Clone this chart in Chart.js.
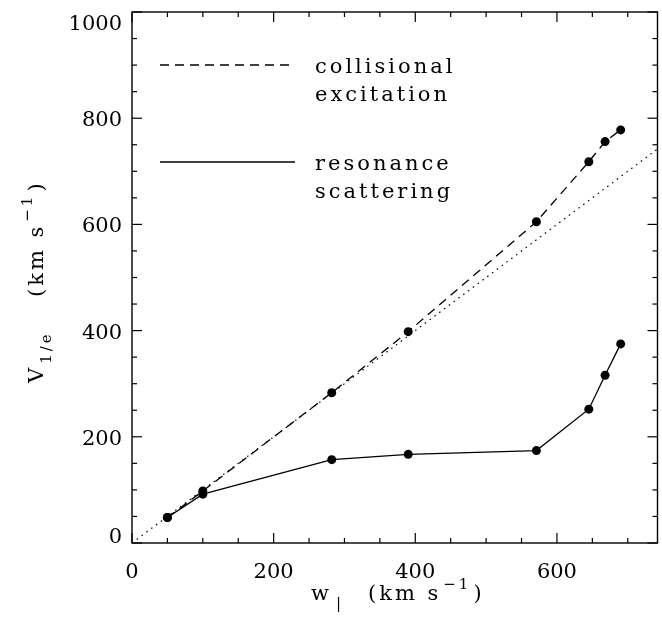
<!DOCTYPE html>
<html>
<head>
<meta charset="utf-8">
<script src="https://cdn.jsdelivr.net/npm/chart.js@4"></script>
<style>
  html, body { margin: 0; padding: 0; background: #fff; }
  canvas { display: block; }
</style>
</head>
<body>
<canvas id="c" width="662" height="619"></canvas>
<script>
// Line-of-sight velocity width w and the 1/e velocity for each emission model
const w           = [50, 100, 282, 390, 571, 645, 668, 690];
const collisional = [48, 98, 283, 398, 605, 718, 756, 778];
const resonance   = [48, 92, 157, 167, 174, 252, 316, 375];
// end points of the equality line V = w
const equality    = [0, 742];
const xTicks = [0, 200, 400, 600];
const yTicks = [0, 200, 400, 600, 800, 1000];
const legendRows = [
  { dash: [9, 6], lines: ['collisional', 'excitation'] },
  { dash: [],     lines: ['resonance', 'scattering'] }
];

const FONT = '"DejaVu Serif", "Liberation Serif", serif';
const INK = '#000';

function seg(ctx, x1, y1, x2, y2) {
  ctx.beginPath(); ctx.moveTo(x1, y1); ctx.lineTo(x2, y2); ctx.stroke();
}
function text(ctx, str, x, y, size, align) {
  ctx.font = size + 'px ' + FONT;
  ctx.textAlign = align || 'left';
  ctx.fillText(str, x, y);
  return ctx.measureText(str).width;
}

const frame = {
  id: 'frame',
  afterDraw(chart) {
    const { ctx, chartArea: a, scales: { x, y } } = chart;
    ctx.save();
    ctx.strokeStyle = INK; ctx.fillStyle = INK;
    ctx.lineWidth = 1.4;
    ctx.strokeRect(a.left, a.top, a.right - a.left, a.bottom - a.top);

    // inward ticks on all four sides, minor every quarter of a major step
    ctx.lineWidth = 1.2;
    const xStep = xTicks[1] - xTicks[0], yStep = yTicks[1] - yTicks[0];
    for (let v = 0; v <= x.max; v += xStep / 4) {
      const px = x.getPixelForValue(v);
      const len = v % xStep === 0 ? 10 : 5;
      seg(ctx, px, a.bottom, px, a.bottom - len);
      seg(ctx, px, a.top, px, a.top + len);
    }
    for (let v = 0; v <= y.max; v += yStep / 4) {
      const py = y.getPixelForValue(v);
      const len = v % yStep === 0 ? 10 : 5;
      seg(ctx, a.left, py, a.left + len, py);
      seg(ctx, a.right, py, a.right - len, py);
    }

    // tick labels
    ctx.textBaseline = 'alphabetic';
    xTicks.forEach(v => text(ctx, String(v), x.getPixelForValue(v), a.bottom + 35, 21, 'center'));
    yTicks.forEach(v => {
      const py = y.getPixelForValue(v);
      const base = Math.min(Math.max(py + 8, a.top + 18), a.bottom);
      text(ctx, String(v), a.left - 10, base, 21, 'right');
    });

    // legend
    ctx.lineWidth = 1.3;
    ctx.letterSpacing = '3px';
    legendRows.forEach((row, i) => {
      const ly = i === 0 ? 65 : 162;
      ctx.setLineDash(row.dash);
      seg(ctx, 160, ly, 295, ly);
      ctx.setLineDash([]);
      text(ctx, row.lines[0], 315, ly + 8, 21);
      text(ctx, row.lines[1], 315, ly + 36, 21);
    });

    // x-axis title: w| (km s^-1)
    let cx = 311;
    cx += text(ctx, 'w', cx, 600, 21);
    text(ctx, '|', cx + 4, 608, 15);
    cx = 368;
    cx += text(ctx, '(km s', cx, 600, 21);
    cx += text(ctx, '\u22121', cx + 2, 589, 15) + 4;
    text(ctx, ')', cx, 600, 21);

    // y-axis title: V_1/e (km s^-1), reading upward
    ctx.save();
    ctx.translate(43, 383);
    ctx.rotate(-Math.PI / 2);
    let cy = 0;
    cy += text(ctx, 'V', cy, 0, 21);
    cy += text(ctx, '1/e', cy + 1, 8, 15);
    cy = 86;
    cy += text(ctx, '(km s', cy, 0, 21);
    cy += text(ctx, '\u22121', cy + 2, -11, 15) + 4;
    text(ctx, ')', cy, 0, 21);
    ctx.restore();

    ctx.letterSpacing = '0px';
    ctx.restore();
  }
};

const pts = ys => w.map((v, i) => ({ x: v, y: ys[i] }));

new Chart(document.getElementById('c'), {
  type: 'scatter',
  data: {
    datasets: [
      {
        label: 'V = w',
        data: equality.map(v => ({ x: v, y: v })),
        showLine: true, borderColor: INK, borderWidth: 1.2,
        borderDash: [1.5, 4.5], pointRadius: 0
      },
      {
        label: 'collisional excitation',
        data: pts(collisional),
        showLine: true, borderColor: INK, borderWidth: 1.3, borderDash: [9, 6],
        pointRadius: 4.5, pointBackgroundColor: INK, pointBorderWidth: 0
      },
      {
        label: 'resonance scattering',
        data: pts(resonance),
        showLine: true, borderColor: INK, borderWidth: 1.3,
        pointRadius: 4.5, pointBackgroundColor: INK, pointBorderWidth: 0
      }
    ]
  },
  options: {
    responsive: false,
    animation: false,
    devicePixelRatio: 1,
    layout: { padding: { left: 132, top: 12, right: 1, bottom: 76 } },
    scales: {
      x: { type: 'linear', min: 0, max: 742, display: false },
      y: { type: 'linear', min: 0, max: 1000, display: false }
    },
    plugins: { legend: { display: false }, tooltip: { enabled: false } }
  },
  plugins: [frame]
});
</script>
</body>
</html>
